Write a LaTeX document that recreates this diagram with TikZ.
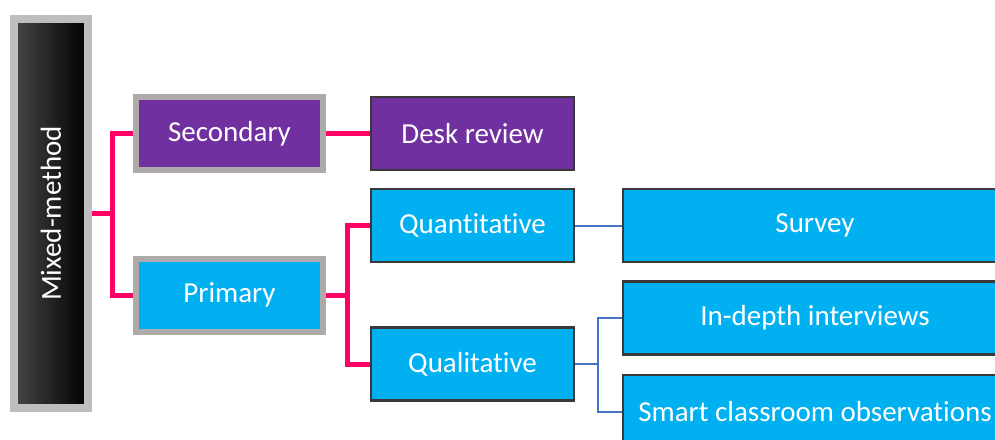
\documentclass[tikz,border=0pt]{standalone}
\usepackage{fontspec}
\setmainfont{Carlito}[Ligatures={NoCommon}]
\usepackage{tikz}
\usetikzlibrary{arrows.meta,calc,positioning}

\definecolor{mpurple}{HTML}{7030A0}
\definecolor{mcyan}{HTML}{00B0F0}
\definecolor{mpink}{HTML}{FF0066}
\definecolor{mgrey}{HTML}{AEAAAA}
\definecolor{mdark}{HTML}{3A3838}
\definecolor{mblue}{HTML}{4472C4}

\tikzset{
greybox/.style={
  rectangle,
  line width=6pt,
  inner sep=0pt,
  minimum width=187pt,
  minimum height=73pt,
  draw=mgrey,
  text=white,
  font=\fontsize{29}{34}\selectfont,
  }
}
\tikzset{
darkbox/.style={
  rectangle,
  line width=2.5pt,
  inner sep=0pt,
  minimum width=203pt,
  minimum height=73pt,
  draw=mdark,
  fill=mcyan,
  text=white,
  font=\fontsize{29}{34}\selectfont,
  }
}
\tikzset{
pinkline/.style={
  line width=5pt,
  draw=mpink,
  line join=miter,
  }
}
\tikzset{
blueline/.style={
  line width=2pt,
  draw=mblue,
  }
}

\begin{document}
\begin{tikzpicture}[x=1pt,y=-1pt]
    \useasboundingbox (0,0) rectangle (995,439);

    % root
    \node[rectangle, line width=8pt, draw={rgb,255:red,190;green,190;blue,190}, inner sep=0pt,
          minimum width=74pt, minimum height=389pt, left color={rgb,255:red,70;green,70;blue,70},
          middle color=black, right color=black, text=white,
          font=\fontsize{29}{34}\selectfont] (mixed) at (51,213.5) {\rotatebox{90}{Mixed-method}};

    % source part
    \node[greybox, fill=mpurple] (secondary) at (229.5,133.5) {Secondary};
    \node[greybox, fill=mcyan] (primary) at (229.5,295) {Primary};
    \node[darkbox, fill=mpurple] (desk) at (472.5,133.5) {Desk review};

    % approach part
    \node[darkbox] (quant) at (472.5,225.5) {Quantitative};
    \node[darkbox] (qual) at (472.5,364) {Qualitative};

    % method part
    \node[darkbox, minimum width=384pt] (survey) at (815,225.5) {Survey};
    \node[darkbox, minimum width=384pt, below=17pt of survey] (indepth) {In-depth interviews};
    \node[darkbox, minimum width=384pt, below=18pt of indepth] (smart) {Smart classroom observations};

    % pink edges
    \draw[pinkline] (mixed.east) -- ++(20,0) |- (secondary.west);
    \draw[pinkline] (mixed.east) -- ++(20,0) |- (primary.west);
    \draw[pinkline] (secondary.east) -- (desk.west);
    \draw[pinkline] (primary.east) -- ++(21,0) |- (quant.west);
    \draw[pinkline] (primary.east) -- ++(21,0) |- (qual.west);

    % blue edges
    \draw[blueline] (quant.east) -- (quant.east -| survey.west);
    \draw[blueline] (qual.east) -- ++(23,0) |- (indepth.west);
    \draw[blueline] (qual.east) -- ++(23,0) |- (smart.west);
\end{tikzpicture}
\end{document}
